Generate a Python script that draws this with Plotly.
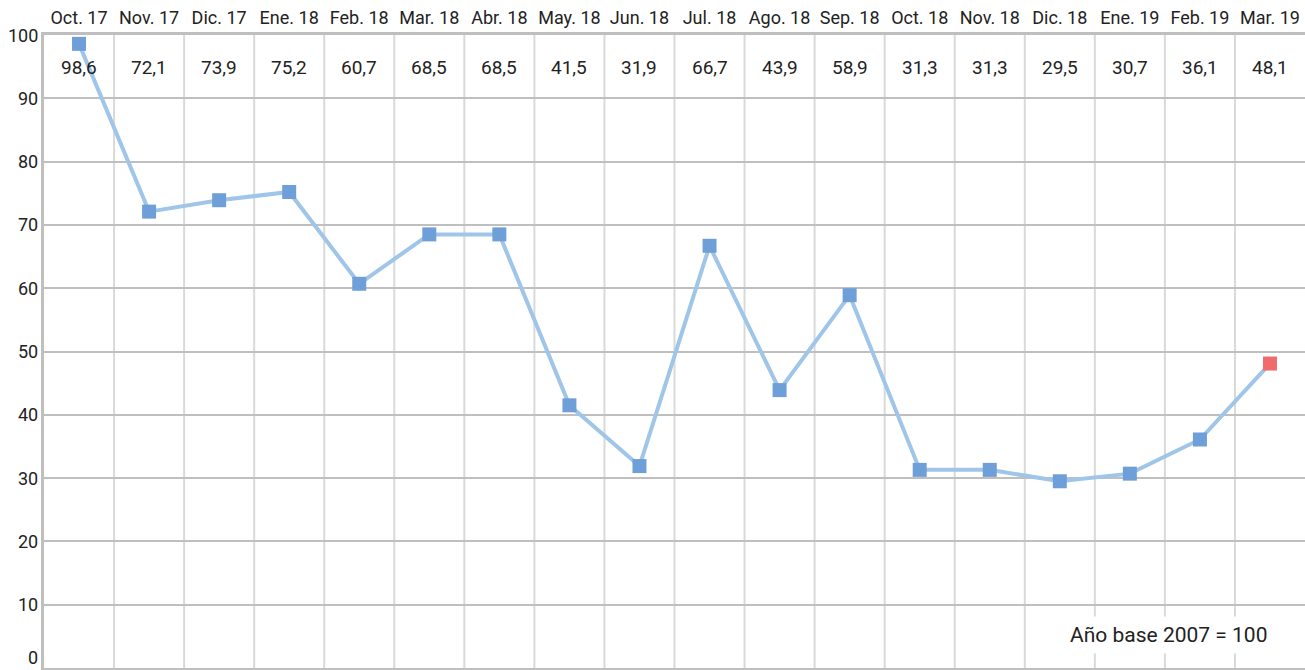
import plotly.graph_objects as go

categories = ["Oct. 17", "Nov. 17", "Dic. 17", "Ene. 18", "Feb. 18", "Mar. 18", "Abr. 18",
              "May. 18", "Jun. 18", "Jul. 18", "Ago. 18", "Sep. 18", "Oct. 18", "Nov. 18",
              "Dic. 18", "Ene. 19", "Feb. 19", "Mar. 19"]
values = [98.6, 72.1, 73.9, 75.2, 60.7, 68.5, 68.5, 41.5, 31.9, 66.7, 43.9, 58.9,
          31.3, 31.3, 29.5, 30.7, 36.1, 48.1]
y_ticks = [0, 10, 20, 30, 40, 50, 60, 70, 80, 90, 100]

FONT = "Roboto"
TXT = "#222222"
n = len(categories)
xs = [i + 0.5 for i in range(n)]
marker_colors = ["#6f9fd8"] * (n - 1) + ["#f06b6b"]

fig = go.Figure()
fig.add_trace(go.Scatter(
    x=xs, y=values, mode="lines+markers",
    line=dict(color="#9fc5e8", width=4),
    marker=dict(symbol="square", size=14, color=marker_colors),
    cliponaxis=False, hoverinfo="skip"))

# vertical separators between categories
for i in range(1, n):
    fig.add_shape(type="line", x0=i, x1=i, y0=0, y1=100, xref="x", yref="y",
                  line=dict(color="#d9d9d9", width=2), layer="below")

for x, v in zip(xs, values):
    fig.add_annotation(x=x, y=94.8, text=f"{v:.1f}".replace(".", ","), showarrow=False,
                       font=dict(family=FONT, size=19, color=TXT))

# y tick labels drawn as annotations so the "0" is not clipped at the bottom edge
for t in y_ticks:
    fig.add_annotation(x=0, xref="paper", xanchor="right", xshift=-5,
                       y=t, yref="y", yanchor="bottom" if t == 0 else "middle",
                       yshift=-1 if t == 0 else 0, borderpad=0,
                       text=str(t), showarrow=False,
                       font=dict(family=FONT, size=18, color=TXT))

fig.add_annotation(x=16.05, y=5.2, text="Año base 2007 = 100", showarrow=False,
                   bgcolor="white", borderpad=6,
                   font=dict(family=FONT, size=21, color=TXT))

fig.update_layout(
    width=1305, height=670,
    margin=dict(l=44, r=0, t=35, b=2, autoexpand=False),
    paper_bgcolor="white", plot_bgcolor="white",
    showlegend=False,
    xaxis=dict(range=[0, n], side="top", tickmode="array", tickvals=xs, ticktext=categories,
               showgrid=False, zeroline=False, ticks="", ticklabelstandoff=1,
               automargin=False,
               tickfont=dict(family=FONT, size=18, color=TXT),
               showline=True, linecolor="#bfbfbf", linewidth=3, mirror=True),
    yaxis=dict(range=[0, 100], tickmode="array", tickvals=y_ticks, showticklabels=False,
               showgrid=True, gridcolor="#bfbfbf", gridwidth=2, zeroline=False,
               ticks="", automargin=False,
               showline=True, linecolor="#bfbfbf", linewidth=3),
)

fig.write_html("out.html", config={"displayModeBar": False, "staticPlot": True},
               post_script="document.body.style.margin='0';document.body.style.overflow='hidden';")
